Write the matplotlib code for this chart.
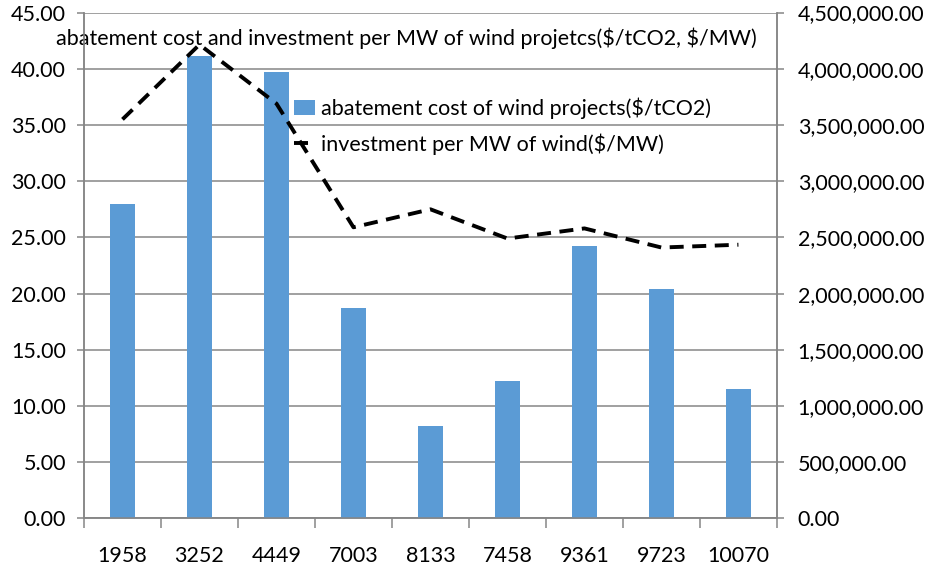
import numpy as np
import matplotlib
matplotlib.use("Agg")
import matplotlib.pyplot as plt
from matplotlib.ticker import FuncFormatter, FixedLocator

plt.rcParams["font.family"] = ["Lato", "DejaVu Sans"]
plt.rcParams["text.parse_math"] = False

categories = ["1958", "3252", "4449", "7003", "8133", "7458", "9361", "9723", "10070"]
abatement_cost = [28.0, 41.1, 39.7, 18.7, 8.2, 12.2, 24.2, 20.4, 11.5]
investment_per_mw = [3550000, 4215000, 3690000, 2590000, 2750000, 2490000, 2580000, 2410000, 2435000]

title = "abatement cost and investment per MW of wind projetcs($/tCO2, $/MW)"
bar_label = "abatement cost of wind projects($/tCO2)"
line_label = "investment per MW of wind($/MW)"

grey = "#868686"
fs = 15.5
fig = plt.figure(figsize=(9.27, 5.71), dpi=100)
ax = fig.add_axes([0.0906, 0.092, 0.7475, 0.886])
ax2 = ax.twinx()

x = np.arange(len(categories))
bars = ax.bar(x, abatement_cost, width=0.32, color="#5B9BD5", zorder=3, label=bar_label)
line, = ax2.plot(x, investment_per_mw, color="black", linewidth=2.8, linestyle=(0, (3.6, 2.2)),
                 zorder=4, label=line_label)

ax.set_xlim(-0.5, len(categories) - 0.5)
ax.set_ylim(0, 45)
ax.set_yticks(np.arange(0, 46, 5))
ax2.set_ylim(0, 4500000)
ax2.set_yticks(np.arange(0, 4500001, 500000))
ax.yaxis.set_major_formatter(FuncFormatter(lambda v, p: f"{v:.2f}"))
ax2.yaxis.set_major_formatter(FuncFormatter(lambda v, p: f"{v:,.2f}"))

ax.set_xticks(x)
ax.set_xticklabels(categories)
ax.xaxis.set_minor_locator(FixedLocator(np.arange(-0.5, len(categories), 1.0)))
ax.tick_params(axis="x", which="major", length=0, pad=20, labelsize=fs)
ax.tick_params(axis="x", which="minor", length=7, width=1.1, color=grey, direction="out")
ax.tick_params(axis="y", length=5, width=1.1, color=grey, labelsize=fs, pad=8)
ax2.tick_params(axis="y", length=5, width=1.1, color=grey, labelsize=fs, pad=10)

ax.grid(axis="y", color=grey, linewidth=1.1, zorder=0)
ax.set_axisbelow(True)
for a in (ax, ax2):
    a.spines["top"].set_visible(False)
    for s in ("left", "right", "bottom"):
        a.spines[s].set_color(grey)
        a.spines[s].set_linewidth(1.1)

ax.text(0.465, 0.95, title, transform=ax.transAxes, ha="center", va="center", fontsize=fs, zorder=6)

ax2.legend([bars, line], [bar_label, line_label], loc="upper left", bbox_to_anchor=(0.275, 0.87),
           frameon=False, fontsize=fs, handlelength=1.0, handletextpad=0.25, labelspacing=0.65)

fig.savefig("out.png", dpi=100)
